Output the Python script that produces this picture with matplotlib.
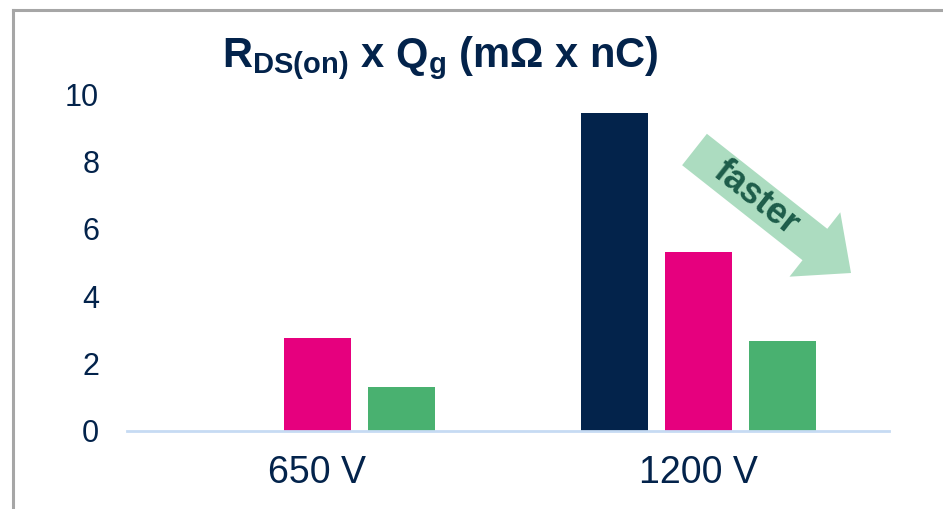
import numpy as np
import matplotlib
matplotlib.use("Agg")
import matplotlib.pyplot as plt
from matplotlib.patches import Polygon
from matplotlib.transforms import Affine2D

plt.rcParams['font.family'] = ['Liberation Sans', 'DejaVu Sans']
plt.rcParams['mathtext.fontset'] = 'custom'
plt.rcParams['mathtext.rm'] = 'Liberation Sans'
plt.rcParams['mathtext.it'] = 'Liberation Sans:italic'
plt.rcParams['mathtext.bf'] = 'Liberation Sans:bold'

# Data
categories = ["650 V", "1200 V"]
series_navy = [np.nan, 9.45]
series_pink = [2.75, 5.3]
series_green = [1.3, 2.67]
y_ticks = [0, 2, 4, 6, 8, 10]

NAVY = "#03234b"
PINK = "#e6007e"
GREEN = "#49b170"
ARROW_FILL = "#acdcc0"
ARROW_TEXT = "#1d5d4a"
AXIS_BLUE = "#c6dbf3"
FRAME_GRAY = "#a6a6a6"

W, H = 943, 509
fig = plt.figure(figsize=(W / 100, H / 100), dpi=100)
fig.patch.set_facecolor("white")

ax = fig.add_axes([127 / W, 1 - 431 / H, 762 / W, 337 / H])
x = np.arange(len(categories))
bw = 0.176
step = 0.221
ax.bar(x - step, series_navy, width=bw, color=NAVY, zorder=2)
ax.bar(x, series_pink, width=bw, color=PINK, zorder=2)
ax.bar(x + step, series_green, width=bw, color=GREEN, zorder=2)

ax.set_xlim(-0.5, 1.5)
ax.set_ylim(0, 10)
ax.set_yticks(y_ticks)
ax.set_yticklabels([str(t) for t in y_ticks])
ax.set_xticks(x)
ax.set_xticklabels(categories)
ax.tick_params(axis="y", length=0, pad=20, labelsize=22, labelcolor=NAVY)
ax.tick_params(axis="x", length=0, pad=17, labelsize=27, labelcolor=NAVY)
for s in ["top", "right", "left"]:
    ax.spines[s].set_visible(False)
ax.spines["bottom"].set_color(AXIS_BLUE)
ax.spines["bottom"].set_linewidth(2)
ax.spines["bottom"].set_zorder(3)

# Outer frame lines (left and top)
fig.add_artist(plt.Line2D([12.5 / W, 12.5 / W], [0, 1 - 10 / H], color=FRAME_GRAY,
                          lw=2.2, transform=fig.transFigure))
fig.add_artist(plt.Line2D([12.5 / W, 1], [1 - 10 / H, 1 - 10 / H], color=FRAME_GRAY,
                          lw=2.2, transform=fig.transFigure))

# Title
fig.text(222 / W, 1 - 67 / H,
         r"R$_{\mathbf{DS(on)}}$ x Q$_{\mathbf{g}}$ (mΩ x nC)",
         fontsize=30, fontweight="bold", color=NAVY, ha="left", va="baseline")

# "faster" arrow, built in pixel space (y downward)
tail = np.array([694.5, 149.5])
tip = np.array([851.0, 273.0])
shaft_w, head_w, head_len = 40.0, 82.0, 46.0
d = tip - tail
L = np.hypot(*d)
u = d / L
n = np.array([-u[1], u[0]])
base = tip - u * head_len
pts = np.array([
    tail + n * shaft_w / 2,
    base + n * shaft_w / 2,
    base + n * head_w / 2,
    tip,
    base - n * head_w / 2,
    base - n * shaft_w / 2,
    tail - n * shaft_w / 2,
])
pix = Affine2D().scale(1 / W, -1 / H).translate(0, 1) + fig.transFigure
fig.add_artist(Polygon(pts, closed=True, facecolor=ARROW_FILL, edgecolor="none",
                       transform=pix))
angle = -np.degrees(np.arctan2(d[1], d[0]))
center = tail + u * 78
fig.text(center[0] / W, 1 - center[1] / H, "faster", rotation=angle,
         rotation_mode="anchor", ha="center", va="center", fontsize=26,
         fontweight="bold", color=ARROW_TEXT)

fig.savefig("out.png", dpi=100, facecolor="white")
